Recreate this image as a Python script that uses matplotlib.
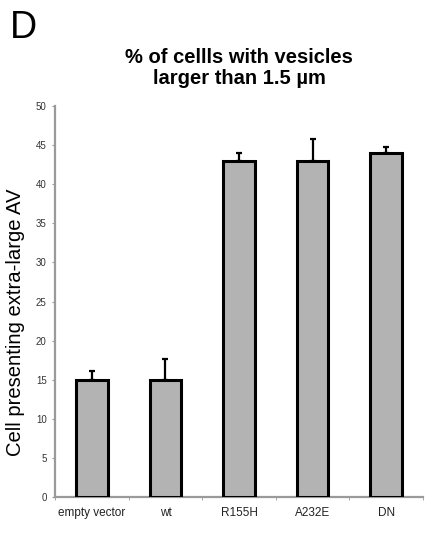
import matplotlib
matplotlib.use("Agg")
import matplotlib.pyplot as plt
import numpy as np

categories = ["empty vector", "wt", "R155H", "A232E", "DN"]
values = [15, 15, 43, 43, 44]
errors = [1.1, 2.7, 1.0, 2.8, 0.7]
yticks = [0, 5, 10, 15, 20, 25, 30, 35, 40, 45, 50]

plt.rcParams['font.family'] = ['Liberation Sans', 'DejaVu Sans']

fig = plt.figure(figsize=(4.41, 5.40), dpi=100)
ax = fig.add_axes([55/441, 1-497/540, (423-55)/441, (497-106)/540])

x = np.arange(len(categories))
ax.bar(x, values, width=0.43, color='#b3b3b3', edgecolor='black', linewidth=2.2, zorder=3)
ax.errorbar(x, values, yerr=[np.zeros(len(errors)), errors], fmt='none',
            ecolor='black', elinewidth=1.6, capsize=2, capthick=1.6, zorder=2)

ax.set_xlim(-0.5, len(categories) - 0.5)
ax.set_ylim(0, 50)
ax.set_yticks(yticks)
ax.set_yticklabels([str(t) for t in yticks], fontsize=7, color='#333333')
ax.set_xticks(x)
ax.set_xticklabels(categories, fontsize=8.5, color='#222222')
ax.set_xticks(np.arange(len(categories) + 1) - 0.5, minor=True)
ax.tick_params(axis='x', which='major', length=0, pad=7)
ax.tick_params(axis='x', which='minor', length=2.5, color='#999999', direction='out')
ax.tick_params(axis='y', length=2, color='#999999', direction='out', pad=4)

for s in ['top', 'right']:
    ax.spines[s].set_visible(False)
for s in ['left', 'bottom']:
    ax.spines[s].set_color('#9a9a9a')
    ax.spines[s].set_linewidth(1.6)

ax.set_ylabel("Cell presenting extra-large AV", fontsize=14.6)
ax.yaxis.set_label_coords(-30/368, (497-322)/391)

fig.text(239/441, 1-68/540, "% of cellls with vesicles\nlarger than 1.5 \u00b5m",
         ha='center', va='center', fontsize=14.5, fontweight='bold', linespacing=1.1)
fig.text(10/441, 1-28/540, "D", ha='left', va='center', fontsize=27)

fig.savefig("out.png", dpi=100)
